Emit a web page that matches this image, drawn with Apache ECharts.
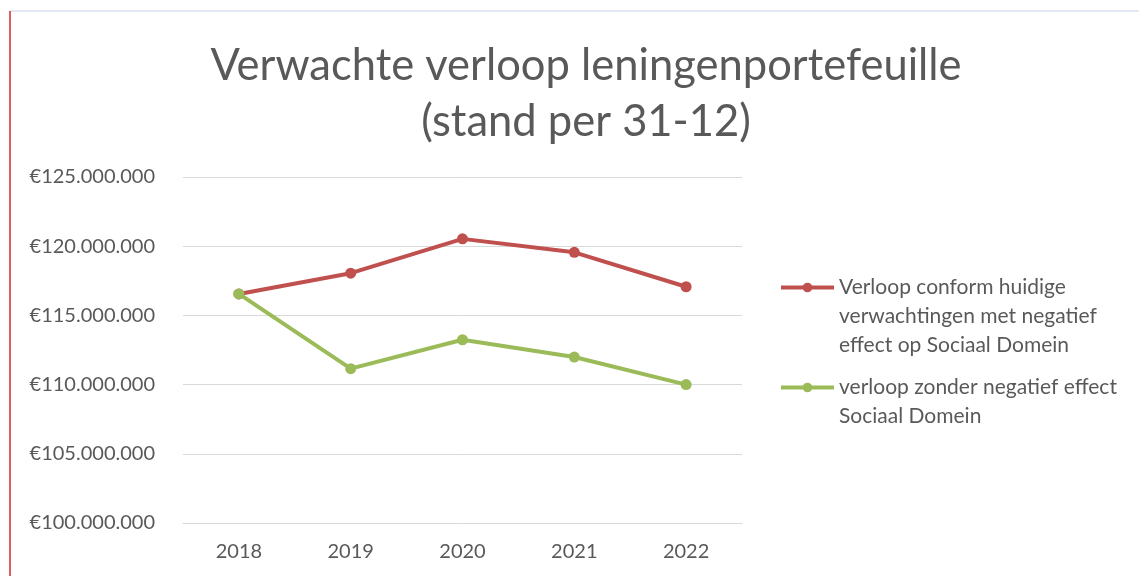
<!DOCTYPE html>
<html>
<head>
<meta charset="utf-8">
<script src="https://cdn.jsdelivr.net/npm/echarts@6/dist/echarts.min.js"></script>
<style>
  html, body { margin: 0; padding: 0; background: #fff; }
  #chart { width: 1139px; height: 576px; }
</style>
</head>
<body>
<div id="chart"></div>
<script>
// jaren en verwachte stand per 31-12
const years = ['2018', '2019', '2020', '2021', '2022'];
const metEffect = [116550000, 118050000, 120530000, 119560000, 117070000];
const zonderEffect = [116550000, 111150000, 113240000, 111990000, 110000000];
const seriesNames = [
  'Verloop conform huidige\nverwachtingen met negatief\neffect op Sociaal Domein',
  'verloop zonder negatief effect\nSociaal Domein'
];
const yTicks = { min: 100000000, max: 125000000, interval: 5000000 };

const textColor = '#595959';
const font = 'Lato';

function euro(v) {
  return '€' + String(v).replace(/\B(?=(\d{3})+(?!\d))/g, '.');
}

// lege regels ervoor zodat het icoon naast de eerste regel staat
function legendText(name) {
  const n = name.split('\n').length;
  return '\n'.repeat(n - 1) + name;
}

function makeLegend(name, top) {
  return {
    orient: 'vertical',
    left: 779,
    top: top,
    padding: 0,
    itemWidth: 53,
    itemHeight: 12,
    itemGap: 0,
    data: [name],
    formatter: legendText,
    lineStyle: { width: 4 },
    textStyle: { fontFamily: font, fontSize: 21, color: textColor, lineHeight: 29 }
  };
}

const myChart = echarts.init(document.getElementById('chart'));
const option = {
  animation: false,
  backgroundColor: '#fff',
  title: {
    text: 'Verwachte verloop leningenportefeuille\n(stand per 31-12)',
    left: 581,
    top: 33,
    textAlign: 'center',
    textStyle: {
      fontFamily: font,
      fontSize: 43.5,
      fontWeight: 'normal',
      color: textColor,
      lineHeight: 56
    }
  },
  legend: [makeLegend(seriesNames[0], 215), makeLegend(seriesNames[1], 344)],
  grid: { left: 183, right: 397, top: 177, bottom: 53 },
  xAxis: {
    type: 'category',
    data: years,
    boundaryGap: true,
    axisLine: { lineStyle: { color: '#d9d9d9', width: 1 } },
    axisTick: { show: false },
    axisLabel: { fontFamily: font, fontSize: 20, color: textColor, margin: 19 }
  },
  yAxis: {
    type: 'value',
    min: yTicks.min,
    max: yTicks.max,
    interval: yTicks.interval,
    axisLine: { show: false },
    axisTick: { show: false },
    splitLine: { lineStyle: { color: '#d9d9d9', width: 1 } },
    axisLabel: { fontFamily: font, fontSize: 20, color: textColor, margin: 28, formatter: euro }
  },
  series: [{
    name: seriesNames[0],
    type: 'line',
    data: metEffect,
    symbol: 'circle',
    symbolSize: 11,
    lineStyle: { width: 4, color: '#c0504d' },
    itemStyle: { color: '#c0504d' }
  }, {
    name: seriesNames[1],
    type: 'line',
    data: zonderEffect,
    symbol: 'circle',
    symbolSize: 11,
    lineStyle: { width: 4, color: '#9bbb59' },
    itemStyle: { color: '#9bbb59' }
  }],
  graphic: [{
    type: 'line',
    shape: { x1: 10, y1: 11, x2: 1139, y2: 11 },
    style: { stroke: '#c6d4ea', lineWidth: 1 }
  }, {
    type: 'line',
    shape: { x1: 10, y1: 11, x2: 10, y2: 576 },
    style: { stroke: '#d02a2a', lineWidth: 1.5 }
  }]
};
myChart.setOption(option);
window.addEventListener('resize', () => { myChart.resize(); });
</script>
</body>
</html>
